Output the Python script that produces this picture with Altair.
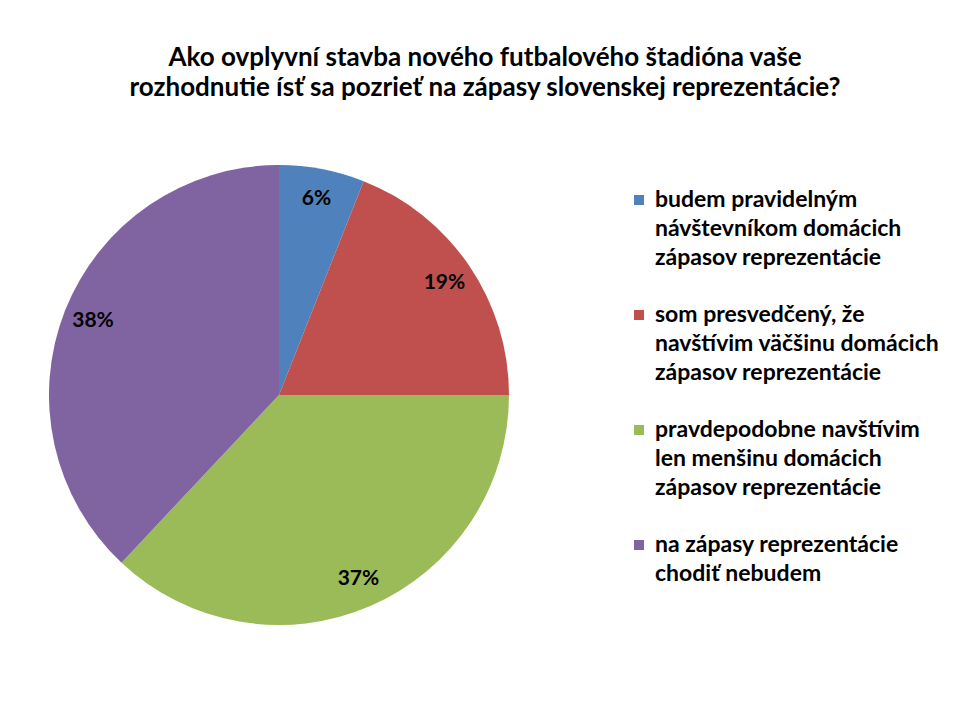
import altair as alt
import pandas as pd

title_lines = [
    "Ako ovplyvní stavba nového futbalového štadióna vaše",
    "rozhodnutie ísť sa pozrieť na zápasy slovenskej reprezentácie?",
]
categories = [
    "budem pravidelným\nnávštevníkom domácich\nzápasov reprezentácie",
    "som presvedčený, že\nnavštívim väčšinu domácich\nzápasov reprezentácie",
    "pravdepodobne navštívim\nlen menšinu domácich\nzápasov reprezentácie",
    "na zápasy reprezentácie\nchodiť nebudem",
]
values = [6, 19, 37, 38]
labels = ["6%", "19%", "37%", "38%"]
colors = ["#4F81BD", "#C0504D", "#9BBB59", "#8064A2"]

df = pd.DataFrame({
    "cat": categories,
    "value": values,
    "label": labels,
    "order": list(range(len(categories))),
})

FONT = "Lato"
color_scale = alt.Scale(domain=categories, range=colors)

base = alt.Chart(df)

pie = base.mark_arc(outerRadius=230, strokeWidth=0).encode(
    theta=alt.Theta("value:Q", stack=True),
    color=alt.Color("cat:N", scale=color_scale, legend=None),
    order=alt.Order("order:Q"),
    x=alt.value(271),
    y=alt.value(277),
)

pie_text = base.mark_text(radius=200, font=FONT, fontWeight="bold", fontSize=21, color="black").encode(
    theta=alt.Theta("value:Q", stack=True),
    order=alt.Order("order:Q"),
    text="label:N",
    x=alt.value(271),
    y=alt.value(277),
)

yscale = alt.Scale(domain=[0, 3], range=[82, 427])

leg_sq = base.mark_square(size=100, opacity=1).encode(
    x=alt.value(631),
    y=alt.Y("order:Q", scale=yscale, axis=None),
    color=alt.Color("cat:N", scale=color_scale, legend=None),
)

leg_txt = base.mark_text(
    align="left", baseline="top", font=FONT, fontWeight="bold", fontSize=23,
    lineBreak="\n", lineHeight=29, yOffset=-11, color="black",
).encode(
    x=alt.value(647),
    y=alt.Y("order:Q", scale=yscale, axis=None),
    text="cat:N",
)

chart = alt.layer(pie, pie_text, leg_sq, leg_txt).properties(
    width=954,
    height=586,
    background="white",
    autosize=alt.AutoSizeParams(type="none"),
    padding={"left": 0, "top": 110, "right": 0, "bottom": 0},
    title=alt.TitleParams(
        text=title_lines, font=FONT, fontWeight="bold", fontSize=26,
        lineHeight=30, anchor="middle", offset=17, color="black",
    ),
).configure_view(strokeWidth=0, stroke="transparent")

chart.save("out.html", embed_options={"renderer": "svg", "actions": False})
